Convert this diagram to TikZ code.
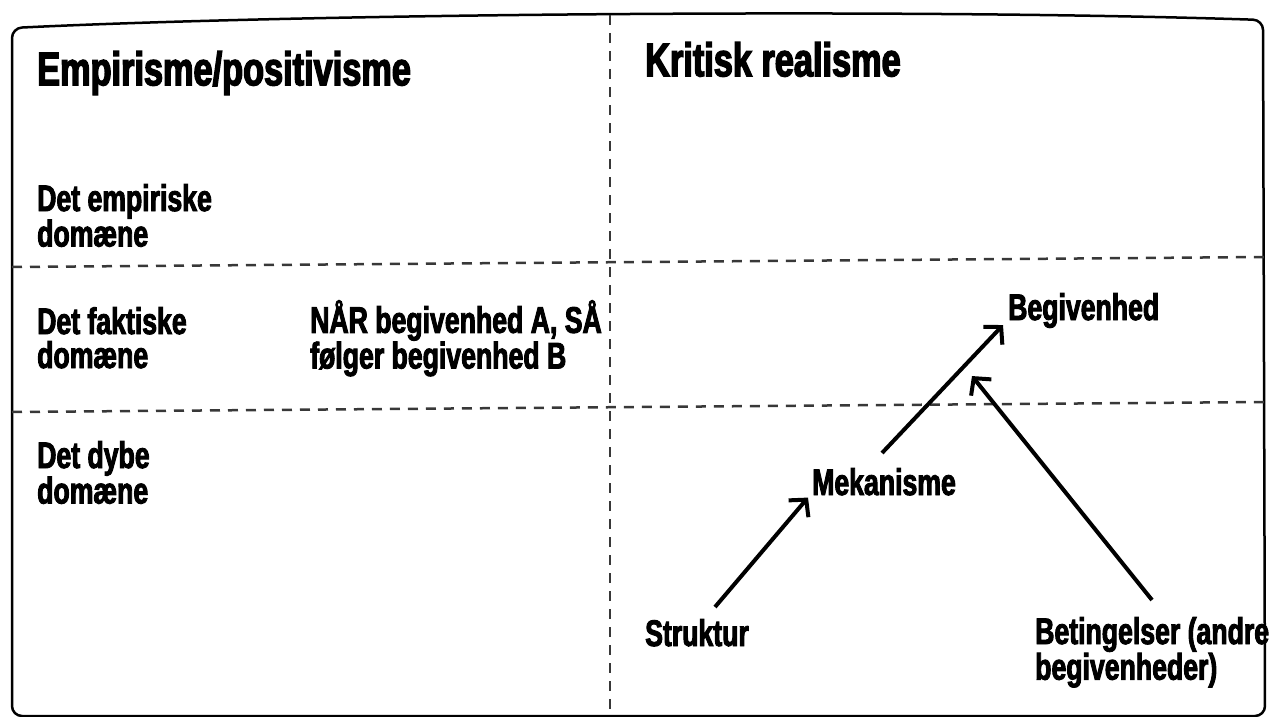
\documentclass[tikz,border=0pt]{standalone}
\usepackage{fontspec}
\newfontfamily\heavy{Liberation Sans}[FakeStretch=0.72,FakeBold=2.5]
\newfontfamily\heavytitle{Liberation Sans}[FakeStretch=0.73,FakeBold=3]
\usetikzlibrary{arrows.meta}

\tikzset{
  frame/.style={line width=2.5pt, rounded corners=10pt},
  divider/.style={dash pattern=on 10pt off 8pt, line width=2.5pt, black!78},
  lbl/.style={anchor=north west, inner sep=0pt, align=left,
    font=\heavy\bfseries\fontsize{37}{34}\selectfont},
  head/.style={anchor=north west, inner sep=0pt,
    font=\heavytitle\bfseries\fontsize{47}{47}\selectfont},
  arr/.style={line width=4pt, -{Straight Barb[length=12pt,width=26pt]}},
}

\begin{document}
\begin{tikzpicture}[x=1pt,y=-1pt]
        \useasboundingbox (0,0) rectangle (1271,717);
        % frame and grid
        \draw[frame] (12,716) -- (12,28) .. controls (300,14) and (900,8) .. (1263,20) -- (1265,716) -- cycle;
        \draw[divider] (610,15) -- (610,717);
        \draw[divider] (12,267) -- (1265,257);
        \draw[divider] (12,412) -- (1265,402);

        % left column
        \node[head] (emp) at (37,51) {Empirisme/positivisme};
        \node[lbl] (empdom) at (37,184) {Det empiriske\\domæne};
        \node[lbl] (faktdom) at (37,307) {Det faktiske\\domæne};
        \node[lbl] (naar) at (310,300) {NÅR begivenhed A, SÅ\\følger begivenhed B};
        \node[lbl] (dybdom) at (37,441) {Det dybe\\domæne};

        % right column
        \node[head] (krit) at (645,42) {Kritisk realisme};
        \node[lbl] (begiv) at (1008,293) {Begivenhed};
        \node[lbl] (mek) at (812,468) {Mekanisme};
        \node[lbl] (strukt) at (645,619) {Struktur};
        \node[lbl] (beting) at (1035,617) {Betingelser (andre\\begivenheder)};

        \draw[arr] ([shift={(18,-12)}]strukt.north) -- ([shift={(-4,2)}]mek.south west);
        \draw[arr] ([shift={(-2,-15)}]mek.north) -- ([shift={(-5,-3)}]begiv.south west);
        \draw[arr] ([shift={(117,-17)}]beting.north west) -- ([shift={(-36,48)}]begiv.south west);
    \end{tikzpicture}
\end{document}
